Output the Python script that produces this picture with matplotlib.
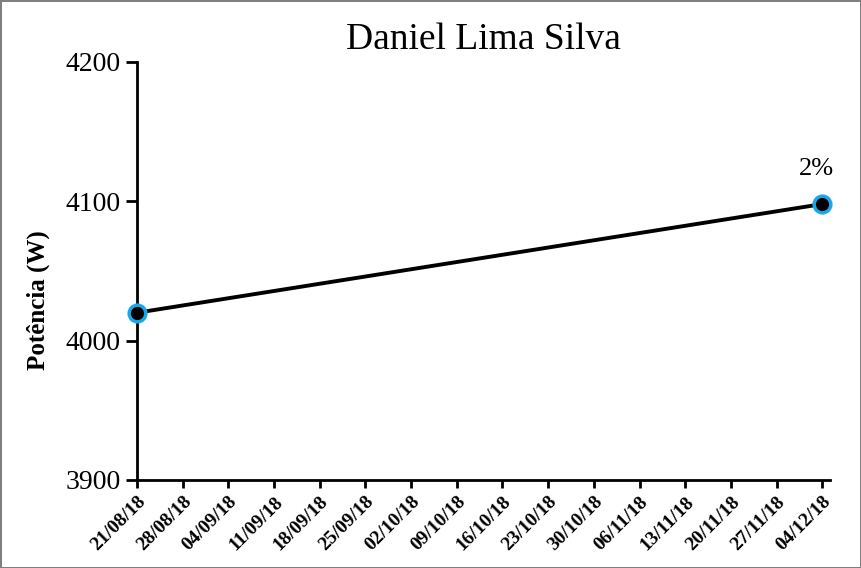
import pandas as pd
import matplotlib.pyplot as plt

plt.rcParams['font.family'] = ['Liberation Serif', 'DejaVu Serif']

# dados
datas = pd.to_datetime(['2018-08-21', '2018-12-04'])
potencia = [4020, 4098]
rotulos = ['', '2%']

fig = plt.figure(figsize=(8.61, 5.68), dpi=100, facecolor='white',
                 edgecolor='#7f7f7f', linewidth=1.0)
ax = fig.add_axes([0.159, 0.155, 0.805, 0.736])

ax.plot(datas, potencia, color='black', linewidth=2.8, marker='o',
        markersize=12, markerfacecolor='black', markeredgecolor='#1aa7e8',
        markeredgewidth=2.5, zorder=3, clip_on=False)
for d, v, r in zip(datas, potencia, rotulos):
    if r:
        ax.annotate(r, (d, v), xytext=(-4, 17), textcoords='offset points',
                    ha='center', va='bottom', fontsize=19)

ticks = pd.date_range('2018-08-21', '2018-12-04', freq='7D')
ax.set_xticks(ticks)
ax.set_xticklabels([t.strftime('%d/%m/%y') for t in ticks], rotation=45,
                   ha='right', rotation_mode='anchor', fontsize=14, fontweight='bold')
ax.set_xlim(datas[0], pd.Timestamp('2018-12-05 04:00'))
ax.set_ylim(3900, 4200)
ax.set_yticks([3900, 4000, 4100, 4200])
ax.tick_params(axis='y', labelsize=20, direction='out', length=8, width=2)
ax.tick_params(axis='x', direction='out', length=6, width=2)
ax.set_ylabel('Potência (W)', fontsize=18, fontweight='bold')
ax.yaxis.set_label_coords(-0.126, 0.43)
ax.set_title('Daniel Lima Silva', fontsize=27, pad=9)

for s in ['top', 'right']:
    ax.spines[s].set_visible(False)
for s in ['left', 'bottom']:
    ax.spines[s].set_linewidth(2)

fig.savefig('out.png', dpi=100, facecolor='white', edgecolor='#7f7f7f')
